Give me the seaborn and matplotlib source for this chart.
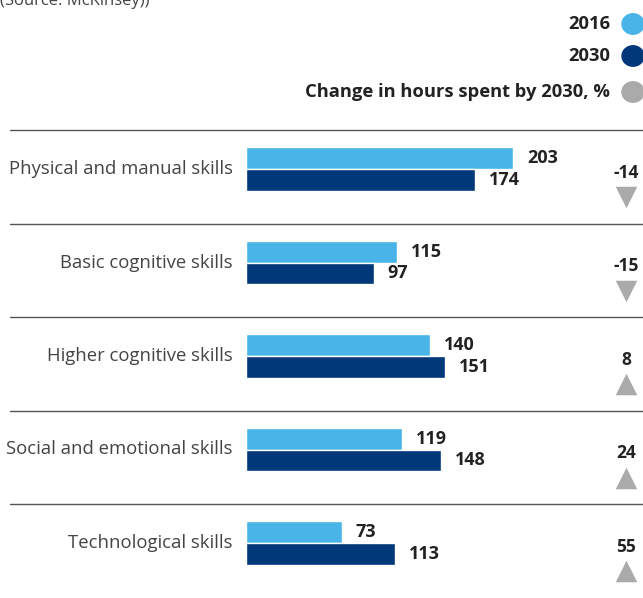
import matplotlib
matplotlib.use("Agg")
import matplotlib.pyplot as plt
import matplotlib.transforms as mtransforms
import seaborn as sns
import pandas as pd

categories = [
    "Physical and manual skills",
    "Basic cognitive skills",
    "Higher cognitive skills",
    "Social and emotional skills",
    "Technological skills",
]
hours_2016 = [203, 115, 140, 119, 73]
hours_2030 = [174, 97, 151, 148, 113]
change_pct = [-14, -15, 8, 24, 55]
years = ["2016", "2030"]

C2016 = "#48b4e7"
C2030 = "#00387a"
GREY = "#aaaaaa"
TXT = "#222222"

sns.set_theme(style="white")
plt.rcParams["font.family"] = ["Open Sans", "DejaVu Sans"]

df = pd.DataFrame({
    "skill": categories * 2,
    "year": [years[0]] * len(categories) + [years[1]] * len(categories),
    "hours": hours_2016 + hours_2030,
})

W, H = 643, 598
fig = plt.figure(figsize=(W / 100, H / 100), dpi=100)
ax = fig.add_axes([0, 0, 1, 1])

sns.barplot(data=df, y="skill", x="hours", hue="year", order=categories,
            hue_order=years, palette=[C2016, C2030], width=0.47,
            orient="h", legend=False, ax=ax, saturation=1)

# layout scale: 1.315 px per hour, zero at x=246 px; 93.5 px per category row
px_per_unit = 1.315
x0 = 246
ax.set_xlim(-x0 / px_per_unit, (W - x0) / px_per_unit)
row = 93.5
first = 169
ax.set_ylim((H - first) / row, -first / row)
ax.axis("off")

for cont in ax.containers:
    ax.bar_label(cont, padding=10, fontsize=13, fontweight="bold", color=TXT)

# category labels
for i, name in enumerate(categories):
    ax.text(-10, i, name, ha="right", va="center", fontsize=13.3,
            color="#444444")

# separators
for i in range(len(categories)):
    ax.axhline(i - 0.417, xmin=10 / W, xmax=1, color="#555555", lw=1)

# change indicators
trans = mtransforms.blended_transform_factory(ax.transAxes, ax.transData)
xm = 626 / W
for i, c in enumerate(change_pct):
    ax.text(xm, i + 0.04, f"{c}", transform=trans, ha="center", va="center",
            fontsize=12.5, fontweight="bold", color=TXT)
    ax.scatter([xm], [i + 0.30], marker="v" if c < 0 else "^", s=240,
               color=GREY, transform=trans, clip_on=False, linewidths=0)

# legend
leg = [("2016", C2016, 24), ("2030", C2030, 56),
       ("Change in hours spent by 2030, %", GREY, 92)]
for label, col, ypx in leg:
    fig.text(610 / W, 1 - ypx / H, label, ha="right", va="center",
             fontsize=13.2, fontweight="bold", color=TXT)
    fig.patches.append(plt.Circle((633 / W, 1 - ypx / H), 11 / W,
                                  transform=fig.transFigure, color=col,
                                  figure=fig))

fig.text(0, 1 - 5 / H, "(Source: McKinsey))", ha="left", va="baseline",
         fontsize=12, color="#444444")

fig.savefig("out.png", dpi=100)
